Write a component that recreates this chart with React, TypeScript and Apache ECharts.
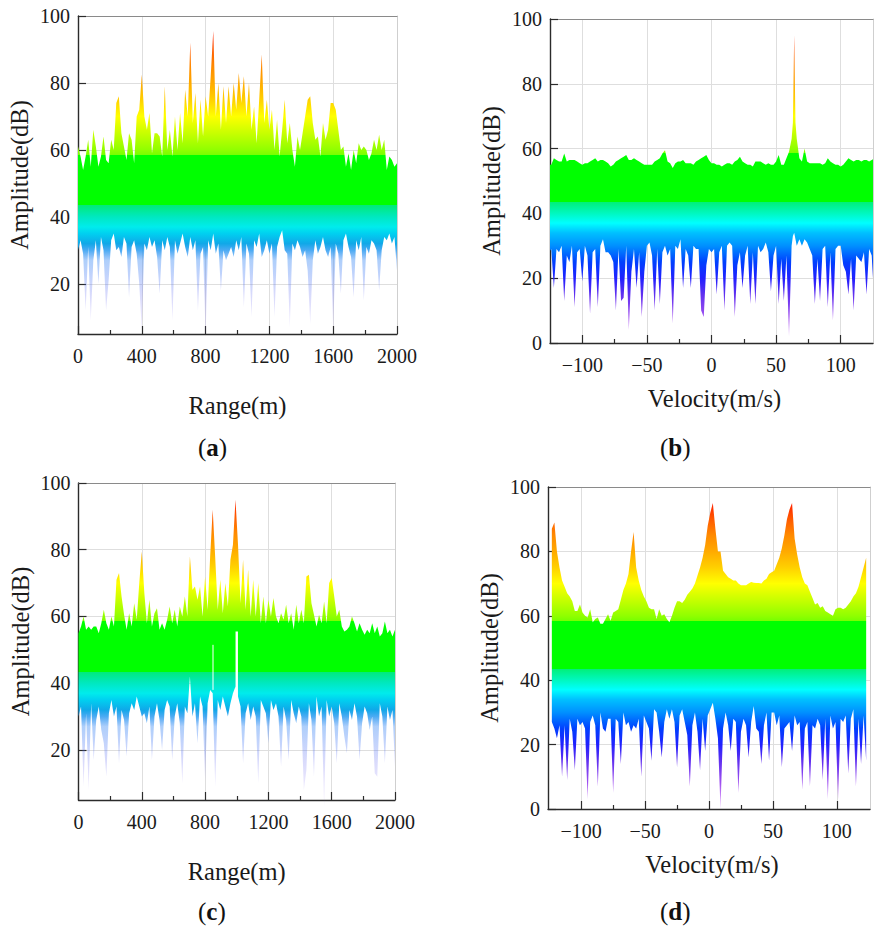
import React, { useEffect, useRef } from "react";
import * as echarts from "echarts";

const FONT = '"Liberation Serif", "Times New Roman", serif';

const rangeTicks = [0, 400, 800, 1200, 1600, 2000];
const rangeMinorTicks = [200, 600, 1000, 1400, 1800];
const velocityTicks = [-100, -50, 0, 50, 100];
const velocityMinorTicks = [-75, -25, 25, 75];
const ampTicksHigh = [20, 40, 60, 80, 100];
const ampTicksFull = [0, 20, 40, 60, 80, 100];

// colour ramp: [amplitude in dB, colour]; repeated levels are hard steps
const rampTop: [number, string][] = [
  [100, "#ff0000"], [95, "#ff2000"], [90, "#ff5a00"], [85, "#ff8a00"], [80, "#ffaa00"],
  [75, "#ffd000"], [70, "#ffff00"], [65, "#c8ff00"], [60, "#90ff00"], [58.5, "#78ff00"],
  [58.5, "#00ff00"], [43.5, "#00ff00"],
];
const rampLowSolid: [number, string][] = [
  [43.5, "#00f07a"], [40, "#00f8c0"], [37, "#00ffff"], [34, "#00c0ff"], [30, "#0090ff"],
  [25, "#0040ff"], [20, "#2020ff"], [15, "#6030f0"], [8, "#a050f0"], [3, "#d090f8"], [-5, "#e0b0ff"],
];
const rampLowFaded: [number, string][] = [
  [43.5, "#00eb78"], [40, "#00e8c0"], [37, "#00ecec"], [35, "#00d0f0"], [32, "#10a8e8"],
  [30, "rgba(30,150,240,0.8)"], [27, "rgba(60,140,245,0.42)"], [22, "rgba(70,120,245,0.32)"],
  [17, "rgba(90,100,240,0.24)"], [10, "rgba(110,90,240,0.15)"], [3, "rgba(140,80,240,0.12)"],
  [-5, "rgba(140,80,240,0.08)"],
];

const rangeSamples = Array.from({ length: 126 }, (_, i) => i * 16);
const velocitySamplesB = [
  ...Array.from({ length: 95 }, (_, i) => -126 + 2 * i).filter((v) => v <= 62),
  63, 64, 65,
  ...Array.from({ length: 31 }, (_, i) => 66 + 2 * i),
];
const velocitySamplesD = Array.from({ length: 124 }, (_, i) => -123 + 2 * i);

const upperA = [
  61, 58, 54, 58, 63, 55, 66, 61, 55, 58,
  64, 57, 56, 63, 60, 74, 76, 65, 61, 57,
  65, 63, 56, 70, 72, 82.5, 70, 66, 71, 59,
  65, 65, 64, 58, 79, 60, 66, 58, 70, 60,
  71, 62, 78, 70, 92, 68, 77, 62, 75, 64,
  76, 70, 82, 95.5, 70, 80, 66, 79, 68, 79,
  70, 80, 72, 83, 74, 82, 70, 80, 66, 73,
  62, 75, 88.5, 68, 75, 66, 72, 60, 69, 58,
  66, 75, 62, 68, 60, 55, 64, 60, 65, 70,
  75, 76, 68, 63, 64, 58, 68, 63, 66, 74,
  74, 72, 66, 60, 61, 55, 59, 54, 60, 56,
  62, 60, 61, 60, 57, 59, 63, 60, 64.5, 60,
  63, 54, 58, 57, 55, 56,
];
const lowerA = [
  30, 33, 29, 12, 31, 9, 27, 33, 20, 34,
  30, 12, 21, 33, 35, 30, 31, 28, 34, 32,
  16, 31, 33, 29, 20, 6, 32, 30, 34, 31,
  33, 28, 17, 33, 30, 34, 31, 9, 33, 29,
  32, 35, 31, 28, 34, 30, 33, 12, 29, 31,
  4, 33, 30, 35, 29, 32, 18, 30, 27, 29,
  31, 28, 33, 30, 34, 13, 32, 29, 10, 33,
  31, 35, 28, 30, 33, 29, 32, 10, 31, 34,
  36, 30, 29, 7, 32, 30, 33, 31, 28, 30,
  24, 8, 27, 33, 29, 31, 34, 30, 28, 31,
  6, 32, 29, 17, 33, 35, 31, 28, 16, 33,
  30, 34, 15, 31, 29, 33, 32, 30, 18, 30,
  34, 33, 35, 32, 34, 24,
];

const upperB = [
  55, 55, 57, 56.5, 56, 56, 58.5, 56, 56.5, 56.5,
  56.5, 56, 55.5, 55, 55.5, 55.5, 56, 56.5, 57, 56,
  56.5, 56.5, 56, 55.5, 54.5, 55, 56, 56.5, 57, 57.5,
  58, 56.5, 56.5, 57, 56.5, 56, 55.5, 55, 55, 55,
  55, 56, 56.5, 57, 58.5, 59.5, 56, 55.5, 54, 55.5,
  56, 56, 56.5, 55.5, 55.5, 55.5, 55, 56, 56.5, 57,
  57.5, 58, 56.5, 55.5, 55.5, 55, 55, 54.5, 55, 55.5,
  55.5, 55, 56, 56.5, 57.5, 56, 55.5, 55, 55, 54.5,
  56, 56, 56, 55.5, 55, 55.5, 55, 55, 56, 58,
  55, 55, 57, 59, 63, 68, 95, 68, 63, 57,
  56, 60, 56, 55.5, 55.5, 55.5, 55.5, 55.5, 55, 55.5,
  57, 56, 55.5, 55, 55, 54.5, 55, 56, 57, 56.5,
  56, 56.5, 56.5, 56, 56.5, 56.5, 56, 56.5, 57,
];
const lowerB = [
  28, 29, 17, 29, 28, 30, 13, 27, 25, 30,
  11, 28, 29, 19, 30, 27, 9, 28, 29, 11,
  30, 32, 28, 28, 27, 25, 10, 29, 13, 14,
  30, 4, 22, 29, 17, 28, 8, 22, 30, 31,
  27, 10, 29, 12, 28, 30, 27, 29, 6, 30,
  29, 32, 17, 29, 27, 17, 30, 29, 29, 10,
  8, 24, 29, 28, 29, 15, 28, 30, 10, 30,
  31, 30, 8, 24, 28, 17, 27, 30, 12, 28,
  12, 30, 28, 29, 31, 28, 16, 27, 30, 12,
  26, 13, 27, 2, 30, 33, 34, 32, 30, 32,
  30, 32, 31, 29, 27, 12, 26, 13, 29, 30,
  11, 28, 7, 29, 30, 30, 24, 22, 15, 26,
  10, 27, 26, 25, 28, 15, 29, 27, 13,
];

const upperC = [
  55, 57, 60, 56, 57, 56, 57, 57, 55, 58,
  62, 58, 56, 60, 57, 71, 73, 66, 60.5, 56,
  61, 57, 64, 59, 70, 79.5, 67, 58, 65, 57,
  61, 62.5, 56, 58, 56, 59, 63, 58, 62, 57,
  63, 60, 66, 60, 78, 68, 69, 65, 69, 60,
  72, 62, 78, 92, 77.5, 62, 71, 61, 70, 63,
  77, 81.5, 95, 81.5, 64, 77, 62, 74, 60, 71,
  60, 70, 58, 66, 58, 65, 60, 65.5, 60, 58,
  61, 59, 63.5, 58, 61, 56, 63.5, 58, 62, 58,
  72, 72.5, 64, 60.5, 57, 60.5, 58, 64.5, 58, 70,
  71.5, 66, 60, 62, 57, 55.5, 56, 57, 60, 58,
  55.5, 58, 56, 54.5, 56, 55, 58, 55, 57, 54,
  55, 58.5, 55, 56, 54, 56,
];
const lowerC = [
  30, 33, 9, 31, 8, 34, 17, 29, 33, 26,
  22, 12, 31, 35, 30, 33, 16, 32, 29, 18,
  31, 34, 32, 36, 33, 30, 31, 28, 33, 17,
  30, 34, 29, 20, 32, 35, 33, 17, 30, 34,
  28, 10, 33, 31, 42, 30, 34, 22, 36, 33,
  11, 34, 38, 37, 9, 35, 32, 36, 33, 30,
  34, 37, 39, 36, 33, 16, 31, 34, 29, 33,
  30, 10, 35, 33, 31, 22, 35, 32, 34, 30,
  15, 33, 29, 17, 35, 31, 28, 33, 30, 8,
  14, 34, 29, 12, 36, 30, 33, 3, 35, 30,
  33, 28, 16, 34, 30, 24, 19, 32, 29, 34,
  30, 17, 28, 33, 31, 26, 30, 13, 12, 34,
  30, 16, 33, 29, 32, 15,
];
// white slits in panel (c): [range, from dB, to dB, stroke width]
const slitsC: [number, number, number, number][] = [
  [850, 38, 51.5, 1],
  [1000, 36, 55.5, 2.4],
];

const upperD = [
  87, 89, 80, 75, 71, 69, 67, 66, 64.5, 61.5,
  61.5, 63.5, 61, 60, 59.5, 62, 58, 59, 59.5, 57.5,
  57.5, 59, 60.5, 58.5, 61, 61.5, 62, 65, 68, 70,
  73, 80, 86, 75, 71, 68, 66, 64.5, 62.5, 62,
  62, 59, 62, 60, 60.5, 59, 58, 60, 62.5, 64.5,
  64.5, 64, 65, 66.5, 67.5, 68.5, 70, 72.5, 75, 78,
  82, 88, 92, 95, 87, 80, 77, 74, 73, 72,
  71.5, 71, 71, 70, 69.5, 69.5, 69.5, 70, 70.5, 70.3,
  70.2, 70.2, 70, 71, 71.5, 73, 73.5, 74, 76, 78,
  81, 85, 90, 93, 95, 84, 79, 75, 72, 70,
  69.5, 67.5, 65.5, 63.5, 64, 62.5, 63, 61.5, 61, 60.5,
  60, 62, 62.5, 62.5, 62, 62.5, 63.5, 64.5, 66, 67,
  69, 72, 75, 78,
];
const lowerD = [
  27, 25, 22, 26, 10, 26, 9, 28, 24, 12,
  28, 26, 27, 25, 3, 27, 29, 26, 7, 30,
  25, 24, 28, 28, 5, 28, 27, 14, 30, 26,
  27, 24, 26, 25, 28, 10, 29, 27, 25, 15,
  31, 30, 24, 16, 27, 31, 28, 31, 27, 13,
  29, 31, 27, 23, 7, 26, 30, 24, 12, 28,
  18, 29, 31, 33, 28, 22, -3, 25, 30, 26,
  18, 28, 27, 5, 24, 28, 26, 16, 27, 32,
  25, 24, 14, 26, 30, 15, 30, 30, 26, 29,
  13, 25, 26, 27, 18, 29, 26, 27, 6, 25,
  27, 7, 26, 25, 28, 26, 9, 28, 3, 29,
  25, 27, 3, 28, 27, 29, 11, 28, 31, 7,
  28, 14, 29, 15,
];

type Panel = {
  left: number; right: number; top: number; bottom: number;
  xMin: number; xMax: number; yMin: number;
  xTicks: number[]; xMinor: number[]; yTicks: number[];
  xName: string; xNameGap: number; xNameShift: number; yNameGap: number;
  samples: number[]; upper: number[]; lower: number[];
  ramp: [number, string][]; clip: boolean;
  slits: [number, number, number, number][];
  caption: string; captionX: number; captionY: number;
};

const panels: Panel[] = [
  {
    left: 78, right: 397, top: 16, bottom: 334, xMin: 0, xMax: 2000, yMin: 5,
    xTicks: rangeTicks, xMinor: rangeMinorTicks, yTicks: ampTicksHigh,
    xName: "Range(m)", xNameGap: 59, xNameShift: 0, yNameGap: 46,
    samples: rangeSamples, upper: upperA, lower: lowerA, ramp: rampLowFaded, clip: false, slits: [],
    caption: "a", captionX: 198, captionY: 449,
  },
  {
    left: 550, right: 873, top: 19, bottom: 343, xMin: -125, xMax: 125, yMin: 0,
    xTicks: velocityTicks, xMinor: velocityMinorTicks, yTicks: ampTicksFull,
    xName: "Velocity(m/s)", xNameGap: 43, xNameShift: 6, yNameGap: 46,
    samples: velocitySamplesB, upper: upperB, lower: lowerB, ramp: rampLowSolid, clip: true, slits: [],
    caption: "b", captionX: 660, captionY: 449,
  },
  {
    left: 78.5, right: 395, top: 483, bottom: 800, xMin: 0, xMax: 2000, yMin: 5,
    xTicks: rangeTicks, xMinor: rangeMinorTicks, yTicks: ampTicksHigh,
    xName: "Range(m)", xNameGap: 59, xNameShift: 0, yNameGap: 46,
    samples: rangeSamples, upper: upperC, lower: lowerC, ramp: rampLowFaded, clip: false, slits: slitsC,
    caption: "c", captionX: 198, captionY: 913,
  },
  {
    left: 548, right: 870, top: 487, bottom: 809, xMin: -126, xMax: 126, yMin: 0,
    xTicks: velocityTicks, xMinor: velocityMinorTicks, yTicks: ampTicksFull,
    xName: "Velocity(m/s)", xNameGap: 43, xNameShift: 6, yNameGap: 46,
    samples: velocitySamplesD, upper: upperD, lower: lowerD, ramp: rampLowSolid, clip: false, slits: [],
    caption: "d", captionX: 660, captionY: 913,
  },
];

const fmt = (v: number) => (v < 0 ? "\u2212" + Math.abs(v) : String(v));

function buildOption() {
  const grid: any[] = [];
  const xAxis: any[] = [];
  const yAxis: any[] = [];
  const series: any[] = [];
  const graphic: any[] = [];
  const tickStyle = { color: "#2b2b2b", width: 1.2 };

  panels.forEach((p, k) => {
    const h = p.bottom - p.top;
    const pxPerDb = h / (100 - p.yMin);
    grid.push({ left: p.left, top: p.top, width: p.right - p.left, height: h, show: false });

    const xBase = { gridIndex: k, type: "value", min: p.xMin, max: p.xMax };
    const mainX = xAxis.length;
    xAxis.push({
      ...xBase, position: "bottom", name: p.xName, nameLocation: "middle", nameGap: p.xNameGap,
      nameTextStyle: { fontFamily: FONT, fontSize: 24.5, color: "#1a1a1a", padding: [0, 0, 0, p.xNameShift] },
      axisLine: { show: true, onZero: false, lineStyle: { color: "#2b2b2b", width: 1.4 } },
      axisTick: { show: true, inside: true, length: 8, lineStyle: tickStyle, customValues: p.xTicks },
      axisLabel: { show: true, margin: 11.5, hideOverlap: false, showMinLabel: true, showMaxLabel: true, fontFamily: FONT, fontSize: 20, color: "#1a1a1a", formatter: fmt, customValues: p.xTicks },
      splitLine: { show: true, lineStyle: { color: "#dedede", width: 1 } },
    });
    xAxis.push({
      ...xBase, position: "bottom",
      axisLine: { show: false, onZero: false },
      axisTick: { show: true, inside: true, length: 4, lineStyle: tickStyle, customValues: p.xMinor },
      axisLabel: { show: false }, splitLine: { show: false },
    });
    xAxis.push({
      ...xBase, position: "top",
      axisLine: { show: true, onZero: false, lineStyle: { color: "#8a8a8a", width: 1 } },
      axisTick: { show: false }, axisLabel: { show: false }, splitLine: { show: false },
    });
    const yBase = { gridIndex: k, type: "value", min: p.yMin, max: 100 };
    const mainY = yAxis.length;
    yAxis.push({
      ...yBase, position: "left", name: "Amplitude(dB)", nameLocation: "middle", nameGap: p.yNameGap,
      nameTextStyle: { fontFamily: FONT, fontSize: 24.5, color: "#1a1a1a" },
      axisLine: { show: true, onZero: false, lineStyle: { color: "#2b2b2b", width: 1.4 } },
      axisTick: { show: true, inside: true, length: 8, lineStyle: tickStyle, customValues: p.yTicks },
      axisLabel: { show: true, margin: 8, fontFamily: FONT, fontSize: 20, color: "#1a1a1a", showMinLabel: true, showMaxLabel: true, customValues: p.yTicks },
      splitLine: { show: true, lineStyle: { color: "#dedede", width: 1 } },
    });
    yAxis.push({
      ...yBase, position: "right",
      axisLine: { show: true, onZero: false, lineStyle: { color: "#cfcfcf", width: 1 } },
      axisTick: { show: false }, axisLabel: { show: false }, splitLine: { show: false },
    });

    const floorDb = -5;
    const span = 100 - floorDb;
    const colorStops = [...rampTop, ...p.ramp].map(([db, color]) => ({ offset: (100 - db) / span, color }));
    const fill = {
      type: "linear", x: 0, y: p.top, x2: 0, y2: p.top + span * pxPerDb,
      global: true, colorStops,
    };
    const stack = "band" + k;
    // amplitude comes first in each row so that ECharts stacks the amplitude, not the abscissa
    const common = {
      type: "line", xAxisIndex: mainX, yAxisIndex: mainY, stack, showSymbol: false, symbol: "none",
      clip: p.clip, silent: true, lineStyle: { width: 0, opacity: 0 }, z: 3,
      encode: { x: 1, y: 0 },
    };
    series.push({ ...common, name: "lower" + k, data: p.samples.map((x, i) => [p.lower[i], x]) });
    series.push({
      ...common, name: "band" + k,
      areaStyle: { color: fill, opacity: 1 },
      data: p.samples.map((x, i) => [p.upper[i] - p.lower[i], x]),
    });
    p.slits.forEach(([x, a, b, w], j) => {
      series.push({
        type: "line", xAxisIndex: mainX, yAxisIndex: mainY, name: "slit" + k + j, showSymbol: false, symbol: "none",
        silent: true, z: 4, lineStyle: { color: "#ffffff", width: w },
        data: [[x, a], [x, b]],
      });
    });

    graphic.push({
      type: "text", left: p.captionX, top: p.captionY - 14, z: 10,
      style: {
        rich: { n: { fontFamily: FONT, fontSize: 25, fill: "#111" }, b: { fontFamily: FONT, fontSize: 25, fontWeight: "bold", fill: "#111" } },
        text: `{n|(}{b|${p.caption}}{n|)}`,
      },
    });
  });

  return { animation: false, backgroundColor: "#ffffff", grid, xAxis, yAxis, series, graphic };
}

export default function App() {
  const ref = useRef<HTMLDivElement>(null);
  useEffect(() => {
    const chart = echarts.init(ref.current!, undefined, { renderer: "svg" });
    chart.setOption(buildOption() as any);
    return () => chart.dispose();
  }, []);
  return <div ref={ref} style={{ position: "absolute", left: 0, top: 0, width: 883, height: 935 }} />;
}
